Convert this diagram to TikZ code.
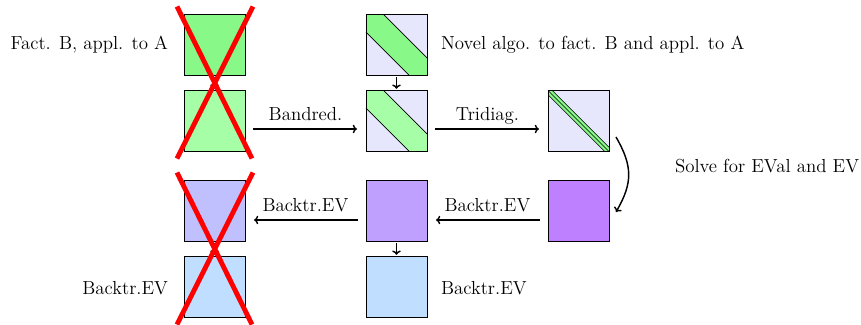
\documentclass[tikz,border=0pt]{standalone}
\usepackage{fontspec}
\usetikzlibrary{calc,arrows.meta}
\definecolor{gA}{RGB}{136,248,136}
\definecolor{gB}{RGB}{166,255,166}
\definecolor{lav}{RGB}{230,230,252}
\definecolor{pA}{RGB}{192,192,255}
\definecolor{pB}{RGB}{192,160,255}
\definecolor{pC}{RGB}{191,128,255}
\definecolor{bl}{RGB}{192,222,255}
\begin{document}
\begin{tikzpicture}[x=0.7pt,y=-0.7pt,
  sq/.style={draw=black, line width=0.5pt, minimum size=42.7pt, inner sep=0pt, outer sep=0pt},
  lbl/.style={inner sep=0pt, outer sep=0pt, font=\fontsize{13.2}{16}\selectfont},
  arr/.style={-{To[length=3pt,width=6pt]}, line width=1pt},
  bandline/.style={draw=black, line width=0.5pt},
  cross/.style={draw=red, line width=3.4pt}]
\useasboundingbox (0,0) rectangle (861,325);

% squares
\node[sq, fill=gA]  (a1) at (214.5,45)  {};
\node[sq, fill=gB]  (a2) at (214.5,121) {};
\node[sq, fill=pA]  (a3) at (214.5,211) {};
\node[sq, fill=bl]  (a4) at (214.5,287) {};
\node[sq, fill=lav] (b1) at (396.5,45)  {};
\node[sq, fill=lav] (b2) at (396.5,121) {};
\node[sq, fill=pB]  (b3) at (396.5,211) {};
\node[sq, fill=bl]  (b4) at (396.5,287) {};
\node[sq, fill=lav] (c2) at (578.5,121) {};
\node[sq, fill=pC]  (c3) at (578.5,211) {};

% band in b1
\fill[gA] (b1.north west) -- ($(b1.north west)!.287!(b1.north east)$) -- ($(b1.south east)!.287!(b1.north east)$) -- (b1.south east) -- ($(b1.south east)!.287!(b1.south west)$) -- ($(b1.north west)!.287!(b1.south west)$) -- cycle;
\draw[bandline] ($(b1.north west)!.287!(b1.north east)$) -- ($(b1.south east)!.287!(b1.north east)$);
\draw[bandline] ($(b1.north west)!.287!(b1.south west)$) -- ($(b1.south east)!.287!(b1.south west)$);
\draw[bandline] (b1.north west) rectangle (b1.south east);
% band in b2
\fill[gB] (b2.north west) -- ($(b2.north west)!.287!(b2.north east)$) -- ($(b2.south east)!.287!(b2.north east)$) -- (b2.south east) -- ($(b2.south east)!.287!(b2.south west)$) -- ($(b2.north west)!.287!(b2.south west)$) -- cycle;
\draw[bandline] ($(b2.north west)!.287!(b2.north east)$) -- ($(b2.south east)!.287!(b2.north east)$);
\draw[bandline] ($(b2.north west)!.287!(b2.south west)$) -- ($(b2.south east)!.287!(b2.south west)$);
\draw[bandline] (b2.north west) rectangle (b2.south east);
% tridiagonal band in c2
\fill[gA] (c2.north west) -- ($(c2.north west)!.07!(c2.north east)$) -- ($(c2.south east)!.07!(c2.north east)$) -- (c2.south east) -- ($(c2.south east)!.07!(c2.south west)$) -- ($(c2.north west)!.07!(c2.south west)$) -- cycle;
\draw[bandline, line width=0.4pt] ($(c2.north west)!.07!(c2.north east)$) -- ($(c2.south east)!.07!(c2.north east)$);
\draw[bandline, line width=0.4pt] ($(c2.north west)!.07!(c2.south west)$) -- ($(c2.south east)!.07!(c2.south west)$);
\draw[bandline, line width=0.4pt] (c2.north west) -- (c2.south east);
\draw[bandline] (c2.north west) rectangle (c2.south east);

% short vertical arrows
\draw[arr, shorten <=1.2pt, shorten >=1.2pt] (a1) -- (a2);
\draw[arr, shorten <=1.2pt, shorten >=1.2pt] (a3) -- (a4);
\draw[arr, shorten <=1.2pt, shorten >=1.2pt] (b1) -- (b2);
\draw[arr, shorten <=1.2pt, shorten >=1.2pt] (b3) -- (b4);

% long arrows
\draw[arr, shorten <=5.6pt, shorten >=6.3pt] ([shift={(0,8)}]a2.east) -- ([shift={(0,8)}]b2.west)
  node[lbl, midway, anchor=base, yshift=6pt] (l1) {Bandred.};
\draw[arr, shorten <=5.6pt, shorten >=6.3pt] ([shift={(0,8)}]b2.east) -- ([shift={(0,8)}]c2.west)
  node[lbl, midway, anchor=base, yshift=6pt] (l2) {Tridiag.};
\draw[arr, shorten <=5.6pt, shorten >=6.3pt] ([shift={(0,9)}]c3.west) -- ([shift={(0,9)}]b3.east)
  node[lbl, midway, anchor=base, yshift=6pt] (l3) {Backtr.EV};
\draw[arr, shorten <=5.6pt, shorten >=6.3pt] ([shift={(0,9)}]b3.west) -- ([shift={(0,9)}]a3.east)
  node[lbl, midway, anchor=base, yshift=6pt] (l4) {Backtr.EV};

% curved arrow
\draw[arr] ([shift={(7,16)}]c2.east) to[out=-60,in=60,looseness=1.15] ([shift={(7,1)}]c3.east);

% text labels
\node[lbl, anchor=east] (t1) at ([shift={(-16,0)}]a1.west) {Fact. B, appl. to A};
\node[lbl, anchor=west] (t2) at ([shift={(14,0)}]b1.east) {Novel algo. to fact. B and appl. to A};
\node[lbl, anchor=west] (t3) at (675,166) {Solve for EVal and EV};
\node[lbl, anchor=east] (t4) at ([shift={(-16,1)}]a4.west) {Backtr.EV};
\node[lbl, anchor=west] (t5) at ([shift={(14,1)}]b4.east) {Backtr.EV};

% red crosses
\draw[cross] ([shift={(-7,-8)}]a1.north west) -- ([shift={(7,7)}]a2.south east);
\draw[cross] ([shift={(8,-8)}]a1.north east) -- ([shift={(-7,7)}]a2.south west);
\draw[cross] ([shift={(-7,-8)}]a3.north west) -- ([shift={(7,7)}]a4.south east);
\draw[cross] ([shift={(8,-8)}]a3.north east) -- ([shift={(-7,7)}]a4.south west);
\end{tikzpicture}
\end{document}
